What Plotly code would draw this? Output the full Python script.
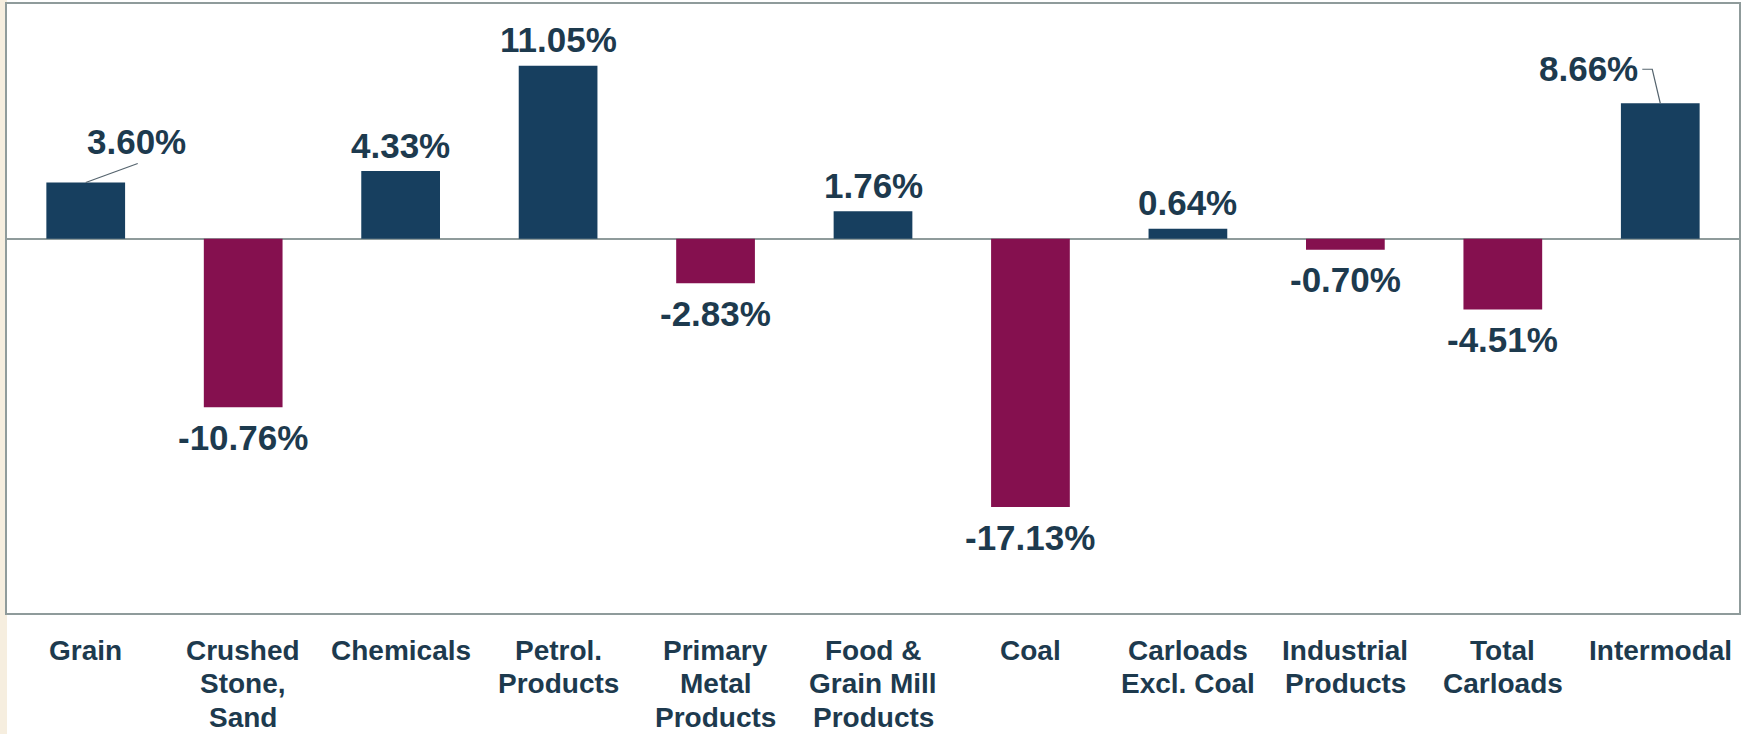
import plotly.graph_objects as go

# ---- data ----
categories = ["Grain", "Crushed Stone, Sand", "Chemicals", "Petrol. Products",
              "Primary Metal Products", "Food & Grain Mill Products", "Coal",
              "Carloads Excl. Coal", "Industrial Products", "Total Carloads", "Intermodal"]
tick_lines = [["Grain"], ["Crushed", "Stone,", "Sand"], ["Chemicals"], ["Petrol.", "Products"],
              ["Primary", "Metal", "Products"], ["Food &", "Grain Mill", "Products"], ["Coal"],
              ["Carloads", "Excl. Coal"], ["Industrial", "Products"], ["Total", "Carloads"],
              ["Intermodal"]]
values = [3.60, -10.76, 4.33, 11.05, -2.83, 1.76, -17.13, 0.64, -0.70, -4.51, 8.66]

# ---- style ----
POS = "#173F5F"
NEG = "#85104F"
TEXT = "#1D3A4E"
FRAME = "#8F9B9B"
FONT = "Liberation Sans, Arial, Helvetica, sans-serif"

colors = [POS if v >= 0 else NEG for v in values]

fig = go.Figure(go.Bar(
    x=categories, y=values, width=0.5,
    marker=dict(color=colors, line=dict(width=0)),
    hoverinfo="skip",
))

# special label placements (pixel offsets) with leader lines
label_offsets = {"Grain": (51, 41), "Intermodal": (-72, 35)}
leaders = {"Grain": "M0,0 L52,19", "Intermodal": "M0,0 L-8,34 L-18,34"}

annotations = []
for cat, v in zip(categories, values):
    if cat in label_offsets:
        dx, dy = label_offsets[cat]
    else:
        dx, dy = 0, (26 if v >= 0 else -30)
    annotations.append(dict(
        x=cat, y=v, xref="x", yref="y", text=f"{v:.2f}%", showarrow=False,
        xshift=dx, yshift=dy, xanchor="center", yanchor="middle",
        font=dict(family=FONT, size=35, color=TEXT, weight="bold"),
    ))

# category labels, one annotation per line
for cat, lines in zip(categories, tick_lines):
    for i, line in enumerate(lines):
        annotations.append(dict(
            x=cat, y=0, xref="x", yref="paper", text=line, showarrow=False,
            xanchor="center", yanchor="middle", yshift=-(37 + 33.5 * i),
            font=dict(family=FONT, size=28, color=TEXT, weight="bold"),
        ))

shapes = [
    dict(type="rect", xref="paper", yref="paper", xsizemode="pixel", xanchor=0,
         x0=-7, x1=0, y0=-0.25, y1=1.05, fillcolor="#F6EEDF", line=dict(width=0),
         layer="below"),
]
for cat, v in zip(categories, values):
    if cat in leaders:
        shapes.append(dict(
            type="path", xref="x", yref="y", xsizemode="pixel", ysizemode="pixel",
            xanchor=cat, yanchor=v, path=leaders[cat],
            line=dict(color="#55646E", width=1.2),
        ))

fig.update_layout(
    width=1748, height=734,
    margin=dict(l=7, r=9, t=2, b=121),
    plot_bgcolor="white", paper_bgcolor="white",
    showlegend=False,
    annotations=annotations, shapes=shapes,
    xaxis=dict(range=[-0.5, 10.5], showticklabels=False, ticks="", showgrid=False,
               showline=True, mirror=True, linecolor=FRAME, linewidth=2, zeroline=False),
    yaxis=dict(range=[-23.9, 15], showticklabels=False, ticks="", showgrid=False,
               showline=True, mirror=True, linecolor=FRAME, linewidth=2,
               zeroline=True, zerolinecolor=FRAME, zerolinewidth=2),
)

fig.write_html("out.html", config={"displayModeBar": False},
               post_script="document.body.style.margin='0';document.body.style.overflow='hidden';")
